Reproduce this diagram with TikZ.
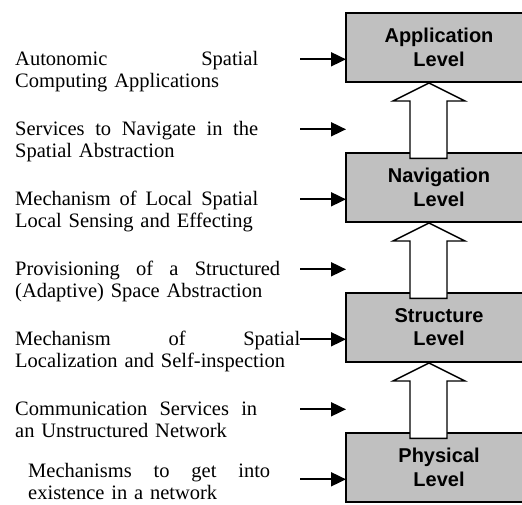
\documentclass[tikz,border=0pt]{standalone}
\usepackage{fontspec}
\setmainfont{Liberation Serif}
\newfontfamily\levelfont{Liberation Sans}
\usepackage{tikz}
\usetikzlibrary{calc,arrows.meta}
\definecolor{boxgray}{HTML}{C0C0C0}
\tikzset{
  level/.style={draw=black, fill=boxgray, line width=1.8pt, minimum width=186pt,
    minimum height=69pt, inner sep=0pt, outer sep=0pt, align=center,
    font=\levelfont\bfseries\fontsize{20}{23.4}\selectfont},
  task/.style={anchor=base west, inner sep=0pt, align=left,
    font=\fontsize{20.5}{22.5}\selectfont},
  feed/.style={draw=black, line width=1.8pt, -{Triangle[length=15pt,width=14pt]}},
  uparrow/.style={draw=black, fill=white, line width=1.4pt, line join=miter}
}

\begin{document}
\begin{tikzpicture}[x=1pt,y=-1pt]
  \useasboundingbox (0,0) rectangle (522,504);

  \node[level] (app) at (439,47.2)  {Application\\Level};
  \node[level] (nav) at (439,187.2) {Navigation\\Level};
  \node[level] (str) at (439,327.2) {Structure\\Level};
  \node[level] (phy) at (439,467.2) {Physical\\Level};

  % hollow arrows going up the stack
  \foreach \lo/\hi in {nav/app,str/nav,phy/str}
    \draw[uparrow] ($(\lo.north)+(-29,5.6)$) -- ++(0,-57.3) -- ++(-17,0)
      -- ($(\hi.south)+(-10,1.3)$) -- ++(36,18) -- ++(-18,0) -- ++(0,57.3) -- cycle;

  \node[task, text width=243pt] (t0) at (15,65)
    {Autonomic\hfill Spatial\\Computing Applications};
  \node[task, text width=243pt] (t1) at (15,135)
    {Services\hfill to\hfill Navigate\hfill in\hfill the\\Spatial Abstraction};
  \node[task, text width=243pt] (t2) at (15,205)
    {Mechanism\hfill of\hfill Local\hfill Spatial\\Local Sensing and Effecting};
  \node[task, text width=265pt] (t3) at (15,275)
    {Provisioning\hfill of\hfill a\hfill Structured\\(Adaptive) Space Abstraction};
  \node[task, text width=285pt] (t4) at (15,345)
    {Mechanism\hfill of\hfill Spatial\\Localization and Self-inspection};
  \node[task, text width=242pt] (t5) at (15,415)
    {Communication\hfill Services\hfill in\\an Unstructured Network};
  \node[task, text width=242pt] (t6) at (28,477)
    {Mechanisms\hfill to\hfill get\hfill into\\existence in a network};

  \foreach \k in {0,...,6} {
    \coordinate (in\k) at (300,{59.3+70*\k});
    \draw[feed] (in\k) -- (in\k -| app.west);
  }
\end{tikzpicture}
\end{document}
